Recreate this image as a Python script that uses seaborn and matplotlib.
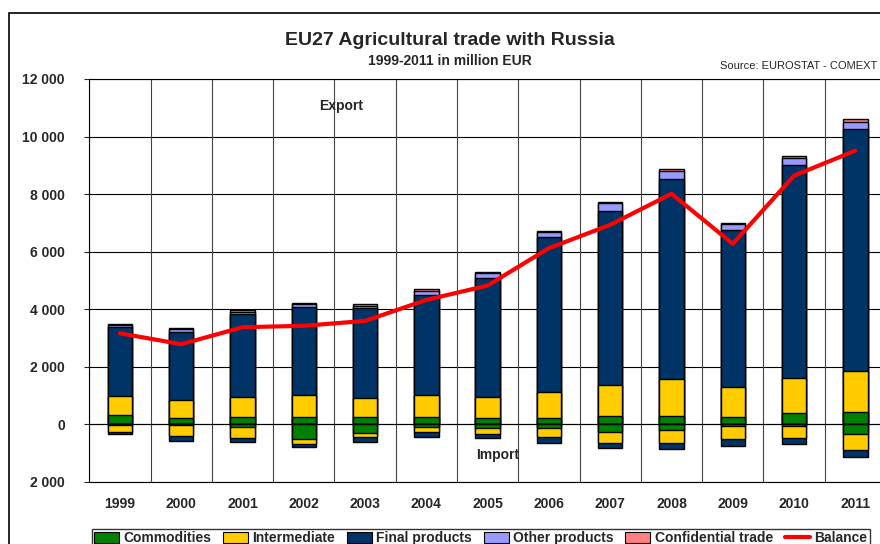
import numpy as np
import matplotlib
matplotlib.use('Agg')
import matplotlib.pyplot as plt
from matplotlib.patches import Patch, Rectangle
from matplotlib.lines import Line2D
import pandas as pd
import seaborn as sns

# EU27 agricultural trade with Russia, million EUR
years = ['1999', '2000', '2001', '2002', '2003', '2004', '2005',
         '2006', '2007', '2008', '2009', '2010', '2011']

# export side (positive)
exp_commodities = [325, 230, 245, 245, 265, 265, 230, 230, 280, 300, 265, 385, 440]
exp_intermediate = [660, 615, 710, 755, 640, 755, 720, 880, 1080, 1265, 1020, 1210, 1420]
exp_final = [2385, 2375, 2865, 3060, 3125, 3470, 4125, 5410, 6065, 6945, 5470, 7425, 8405]
exp_other = [70, 80, 90, 115, 95, 140, 175, 175, 280, 280, 200, 220, 255]
exp_confidential = [35, 60, 60, 45, 55, 60, 30, 35, 35, 70, 35, 90, 80]

# import side (shown below zero)
imp_commodities = [30, 30, 115, 510, 315, 115, 140, 140, 280, 220, 60, 60, 335]
imp_intermediate = [230, 395, 350, 175, 130, 160, 200, 290, 360, 430, 465, 420, 560]
imp_final = [80, 160, 140, 115, 160, 160, 150, 210, 200, 220, 220, 220, 240]

balance = [3160, 2780, 3370, 3420, 3590, 4320, 4820, 6120, 6930, 8010, 6270, 8640, 9510]

y_ticks = [-2000, 0, 2000, 4000, 6000, 8000, 10000, 12000]
y_tick_labels = ['2 000', '0', '2 000', '4 000', '6 000', '8 000', '10 000', '12 000']

series_names = ['Commodities', 'Intermediate', 'Final products', 'Other products', 'Confidential trade']
colors = {'Commodities': '#008000', 'Intermediate': '#FFCC00', 'Final products': '#003366',
          'Other products': '#9999FF', 'Confidential trade': '#FF8080'}


def main():
    sns.set_style('white')
    plt.rcParams['font.family'] = ['Liberation Sans', 'DejaVu Sans']

    df = pd.DataFrame({'year': years,
                       'Commodities': exp_commodities,
                       'Intermediate': exp_intermediate,
                       'Final products': exp_final,
                       'Other products': exp_other,
                       'Confidential trade': exp_confidential})
    imp = pd.DataFrame({'year': years,
                        'Commodities': imp_commodities,
                        'Intermediate': imp_intermediate,
                        'Final products': imp_final})

    fig = plt.figure(figsize=(8.8, 5.44), dpi=100)
    # plot area runs a bit past the right edge, like the reference crop
    ax = fig.add_axes([89.3 / 880, (544 - 481.7) / 544, (886 - 89.3) / 880, 402.7 / 544])

    # stacked bars: draw cumulative totals from the top down so each layer covers the next
    cum = df[series_names].cumsum(axis=1)
    for name in reversed(series_names):
        sns.barplot(x=df['year'], y=cum[name], order=years, color=colors[name],
                    saturation=1, width=0.4, edgecolor='black', linewidth=1.0, ax=ax, zorder=3)

    imp_names = ['Commodities', 'Intermediate', 'Final products']
    cum_imp = -imp[imp_names].cumsum(axis=1)
    for name in reversed(imp_names):
        sns.barplot(x=imp['year'], y=cum_imp[name], order=years, color=colors[name],
                    saturation=1, width=0.4, edgecolor='black', linewidth=1.0, ax=ax, zorder=3)

    sns.lineplot(x=np.arange(len(years)), y=balance, color='#FF0000', linewidth=3,
                 ax=ax, zorder=5)

    ax.set_xlim(-0.5, len(years) - 0.5)
    ax.set_ylim(-2000, 12000)
    ax.set_yticks(y_ticks)
    ax.set_yticklabels(y_tick_labels, fontsize=10, fontweight='bold')
    ax.set_xticks(np.arange(len(years)))
    ax.set_xticklabels(years, fontsize=10, fontweight='bold')
    ax.set_xlabel('')
    ax.set_ylabel('')
    ax.tick_params(axis='x', length=0, pad=11)
    ax.tick_params(axis='y', direction='out', length=3.6, width=0.8, pad=14, left=True)

    # grid: horizontal at each 2000, vertical at category boundaries
    for yv in y_ticks:
        ax.axhline(yv, color='black', linewidth=0.8, zorder=1)
    for xv in np.arange(len(years)) - 0.5:
        ax.axvline(xv, color='#444444', linewidth=0.8, zorder=1)
    ax.axhline(0, color='black', linewidth=0.8, zorder=4)
    for sp in ax.spines.values():
        sp.set_color('black')
        sp.set_linewidth(0.8)

    fig.text(0.511, 0.926, 'EU27 Agricultural trade with Russia', ha='center', va='center',
             fontsize=14, fontweight='bold')
    fig.text(0.511, 0.887, '1999-2011 in million EUR', ha='center', va='center',
             fontsize=10, fontweight='bold')
    fig.text(720 / 880, 1 - 66 / 544, 'Source: EUROSTAT - COMEXT', ha='left', va='center',
             fontsize=8)
    fig.text(341 / 880, 1 - 106 / 544, 'Export', ha='center', va='center',
             fontsize=10, fontweight='bold')
    fig.text(498 / 880, 1 - 455 / 544, 'Import', ha='center', va='center',
             fontsize=10, fontweight='bold')

    # outer chart frame
    fig.patches.append(Rectangle((9 / 880, -0.1), 1.2, (544 - 13.3) / 544 + 0.1,
                                 transform=fig.transFigure, fill=False,
                                 edgecolor='black', linewidth=1.2))

    handles = [Patch(facecolor=colors[n], edgecolor='black', linewidth=0.8, label=n)
               for n in series_names]
    handles.append(Line2D([0], [0], color='#FF0000', linewidth=3, label='Balance'))
    leg = fig.legend(handles=handles, loc='upper left', bbox_to_anchor=(91.7 / 880, 1 - 528.7 / 544),
                     ncol=6, frameon=True, fancybox=False, edgecolor='black',
                     prop={'size': 10, 'weight': 'bold'}, handlelength=1.8, handleheight=0.9,
                     handletextpad=0.3, columnspacing=0.85, borderpad=0.2, borderaxespad=0)
    leg.get_frame().set_linewidth(1.0)

    plt.savefig('out.png', dpi=100)
    plt.close()


if __name__ == '__main__':
    main()
